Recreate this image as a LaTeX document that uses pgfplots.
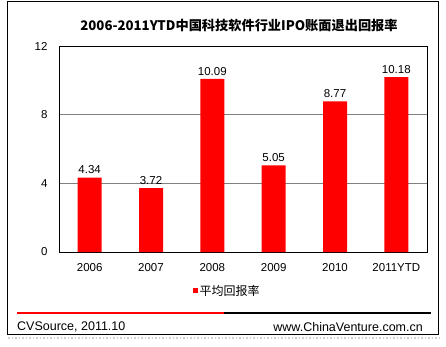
\documentclass[border=0pt]{standalone}
\usepackage{fontspec}
\setmainfont{Liberation Sans}
\newfontfamily\cjk{Noto Sans CJK SC}
\usepackage{pgfplots}
\pgfplotsset{compat=1.18}
\begin{document}
\begin{tikzpicture}[x=1pt,y=1pt]
\useasboundingbox (0,0) rectangle (446,346);
\fill[white] (0,0) rectangle (446,346);
\draw[line width=1pt] (7.5,12) rectangle (438.5,344);
\draw[gray!35, dotted, line width=1.5pt] (8,8) -- (439,8);
\node at (239,321) {\cjk\bfseries\fontsize{13.2}{16}\selectfont 2006-2011YTD中国科技软件行业IPO账面退出回报率};
\begin{axis}[at={(59pt,94pt)}, anchor=south west, scale only axis,
  width=368pt, height=206pt,
  ybar, bar width=24pt,
  xmin=-0.5, xmax=5.5, ymin=0, ymax=12,
  ytick={0,4,8,12},
  xtick=data, xticklabels={2006,2007,2008,2009,2010,2011YTD},
  ymajorgrids, grid style={gray, line width=1pt},
  major tick length=0,
  axis line style={line width=1pt},
  tick label style={font=\fontsize{11.5}{13}\selectfont},
  /pgf/number format/assume math mode=true,
  yticklabel style={xshift=-8pt},
  xticklabel style={yshift=-8pt},
  nodes near coords,
  nodes near coords style={font=\fontsize{11.5}{13}\selectfont, /pgf/number format/fixed, /pgf/number format/precision=2, /pgf/number format/fixed zerofill, /pgf/number format/assume math mode=true},
  legend style={at={(0.457,-0.188)}, anchor=center, draw=none, fill=none, font=\cjk\fontsize{12}{14}\selectfont, inner sep=0pt},
  legend image code/.code={\fill[red] (0pt,-2.5pt) rectangle (5pt,2.5pt);},
]
\addplot[fill=red, draw=none] coordinates {(0,4.34) (1,3.72) (2,10.09) (3,5.05) (4,8.77) (5,10.18)};
\addlegendentry{平均回报率}
\end{axis}
\draw[red, line width=2pt] (17,33) -- (224,33);
\draw[black, line width=2pt] (224,33) -- (431,33);
\node[anchor=west, inner sep=0] at (17,19) {\fontsize{12.5}{14}\selectfont CVSource, 2011.10};
\node[anchor=east, inner sep=0] at (423,19) {\fontsize{12.5}{14}\selectfont www.ChinaVenture.com.cn};
\end{tikzpicture}
\end{document}
